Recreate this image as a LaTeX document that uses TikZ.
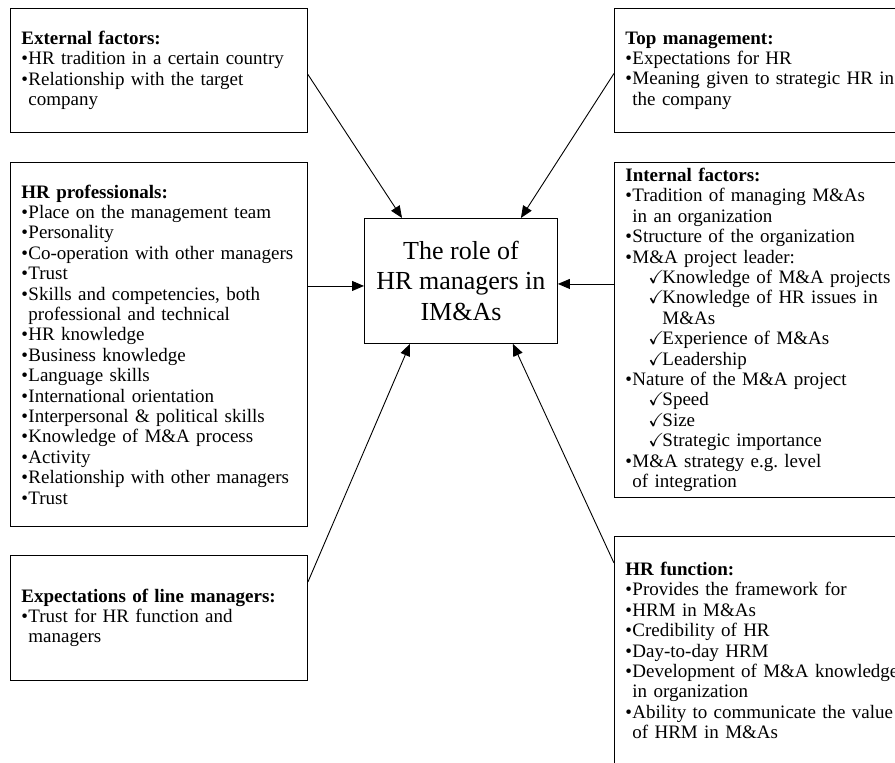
\documentclass[tikz,border=0pt]{standalone}
\usepackage{amssymb}
\usepackage{fontspec}
\setmainfont{Liberation Serif}
\usetikzlibrary{arrows.meta}

\newcommand{\bul}{\makebox[7pt][l]{\textbullet}}
\newcommand{\cnt}{\hspace*{7pt}}
\newcommand{\chk}{\hspace*{23pt}\makebox[14pt][l]{$\checkmark$}}
\newcommand{\chkc}{\hspace*{37pt}}

\begin{document}
\frenchspacing
\begin{tikzpicture}[x=1pt,y=-1pt,
    factorbox/.style={draw,line width=0.9pt,anchor=north west,align=left,
      inner xsep=11pt,inner ysep=0pt,font=\fontsize{19}{20.4}\selectfont},
    rolebox/.style={draw,line width=0.9pt,anchor=north west,align=center,
      minimum width=193pt,minimum height=125pt,inner sep=0pt,
      font=\fontsize{26}{30.5}\selectfont},
    link/.style={line width=0.9pt,-{Triangle[length=12pt,width=10pt]}}]
      \clip (0,0) rectangle (895,763);
      \node[rolebox] (role) at (364,218) {The role of\\HR managers in\\IM\&As};
      \node[factorbox,text width=275pt,minimum height=124pt] (ext) at (10,8)
        {\textbf{External factors:}\\
         \bul HR tradition in a certain country\\
         \bul Relationship with the target\\
         \cnt company};
      \node[factorbox,text width=294pt,minimum height=124pt] (top) at (614,8)
        {\textbf{Top management:}\\
         \bul Expectations for HR\\
         \bul Meaning given to strategic HR in\\
         \cnt the company};
      \node[factorbox,text width=275pt,minimum height=364pt] (prof) at (10,162)
        {\textbf{HR professionals:}\\
         \bul Place on the management team\\
         \bul Personality\\
         \bul Co-operation with other managers\\
         \bul Trust\\
         \bul Skills and competencies, both\\
         \cnt professional and technical\\
         \bul HR knowledge\\
         \bul Business knowledge\\
         \bul Language skills\\
         \bul International orientation\\
         \bul Interpersonal \& political skills\\
         \bul Knowledge of M\&A process\\
         \bul Activity\\
         \bul Relationship with other managers\\
         \bul Trust};
      \node[factorbox,text width=294pt,minimum height=335pt] (intl) at (614,162)
        {\textbf{Internal factors:}\\
         \bul Tradition of managing M\&As\\
         \cnt in an organization\\
         \bul Structure of the organization\\
         \bul M\&A project leader:\\
         \chk Knowledge of M\&A projects\\
         \chk Knowledge of HR issues in\\
         \chkc M\&As\\
         \chk Experience of M\&As\\
         \chk Leadership\\
         \bul Nature of the M\&A project\\
         \chk Speed\\
         \chk Size\\
         \chk Strategic importance\\
         \bul M\&A strategy e.g. level\\
         \cnt of integration};
      \node[factorbox,text width=275pt,minimum height=125pt] (line) at (10,555)
        {\textbf{Expectations of line managers:}\\
         \bul Trust for HR function and\\
         \cnt managers};
      \node[factorbox,text width=294pt,minimum height=228pt] (func) at (614,536)
        {\textbf{HR function:}\\
         \bul Provides the framework for\\
         \bul HRM in M\&As\\
         \bul Credibility of HR\\
         \bul Day-to-day HRM\\
         \bul Development of M\&A knowledge\\
         \cnt in organization\\
         \bul Ability to communicate the value\\
         \cnt of HRM in M\&As};
      \draw[link] ([yshift=-4pt]ext.east) -- ([xshift=38pt]role.north west);
      \draw[link] ([yshift=-3pt]top.west) -- ([xshift=-37pt]role.north east);
      \draw[link] ([yshift=-5pt]prof.east |- role.west) -- ([yshift=-5pt]role.west);
      \draw[link] ([yshift=-3pt]intl.west |- role.east) -- ([yshift=-3pt]role.east);
      \draw[link] ([yshift=-27pt]line.north east) -- ([xshift=46pt]role.south west);
      \draw[link] ([yshift=-27pt]func.north west) -- ([xshift=-45pt]role.south east);
    \end{tikzpicture}
\end{document}
